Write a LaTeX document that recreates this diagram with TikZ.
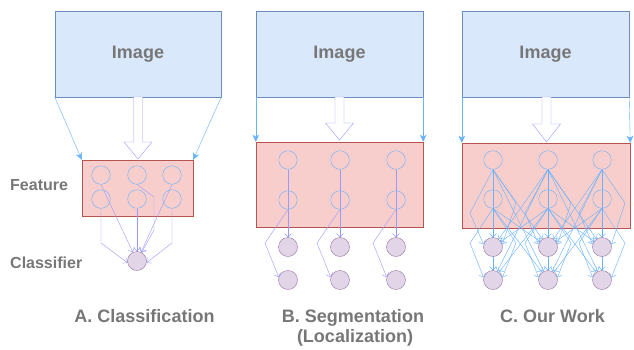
\documentclass[tikz,border=0pt]{standalone}
\usepackage{fontspec}
\setmainfont{Liberation Sans}
\usetikzlibrary{arrows.meta}
\definecolor{imgfill}{HTML}{DAE8FC}
\definecolor{imgline}{HTML}{6C8EBF}
\definecolor{featfill}{HTML}{F8CECC}
\definecolor{featline}{HTML}{B85450}
\definecolor{clsfill}{HTML}{E1D5E7}
\definecolor{clsline}{HTML}{9673A6}
\definecolor{bluel}{HTML}{66B2FF}
\definecolor{purpl}{HTML}{9999FF}
\definecolor{txtgray}{HTML}{777777}
\pgfdeclarelayer{bg}
\pgfdeclarelayer{edgelayer}
\pgfsetlayers{bg,edgelayer,main}
\newcommand\blockarrow[4]{%
  \draw[hollow] ({#1-4.5},#2) -- ({#1+4.5},#2) -- ({#1+4.5},#3) -- ({#1+14},#3) -- (#1,#4) -- ({#1-14},#3) -- ({#1-4.5},#3) -- cycle;}
\begin{document}
\begin{tikzpicture}[x=1pt,y=-1pt,line width=1pt,
  imgbox/.style={draw=imgline,fill=imgfill,minimum height=86pt,inner sep=0pt,
    font=\fontsize{18}{20}\selectfont\bfseries,text=txtgray},
  featbox/.style={draw=featline,fill=featfill,inner sep=0pt},
  fnode/.style={circle,draw=bluel,minimum size=18.6pt,inner sep=0pt},
  cnode/.style={circle,draw=clsline,fill=clsfill,minimum size=19pt,inner sep=0pt},
  inarrow/.style={draw=bluel,-{Stealth[length=7pt,width=6.5pt,inset=2pt]}},
  pline/.style={draw=purpl,-{Straight Barb[length=3.5pt,width=7pt]}},
  bline/.style={draw=bluel,-{Straight Barb[length=3.5pt,width=7pt]}},
  hollow/.style={draw=purpl,fill=white},
  labsmall/.style={font=\fontsize{16}{18}\selectfont\bfseries,text=txtgray,inner sep=0pt},
  labbig/.style={font=\fontsize{18}{20}\selectfont\bfseries,text=txtgray,inner sep=0pt}]
\useasboundingbox (0,0) rectangle (634,349);
\begin{pgfonlayer}{bg}
\fill[white] (0,0) rectangle (634,349);
\node[imgbox,minimum width=166pt] (imA) at (138,54) {Image};
\node[imgbox,minimum width=167pt] (imB) at (339.5,54) {Image};
\node[imgbox,minimum width=167pt] (imC) at (545.5,54) {Image};
\node[featbox,minimum width=111pt,minimum height=56pt] (fA) at (137.5,188) {};
\node[featbox,minimum width=167pt,minimum height=85pt] (fB) at (339.5,184.5) {};
\node[featbox,minimum width=168pt,minimum height=85pt] (fC) at (546,185.5) {};
\end{pgfonlayer}
% labels
\node[labsmall,anchor=base west] (lfeat) at (10,190) {Feature};
\node[labsmall,anchor=base west] (lcls) at (10,268) {Classifier};
\node[labbig,anchor=base] (tA) at (144.5,322) {A. Classification};
\node[labbig,anchor=base] (tB1) at (353,322) {B. Segmentation};
\node[labbig,anchor=base] (tB2) at (355,342.5) {(Localization)};
\node[labbig,anchor=base] (tC) at (552.5,322) {C. Our Work};
% panel A nodes
\node[fnode] (aT1) at (101,175) {};
\node[fnode] (aT2) at (137,175) {};
\node[fnode] (aT3) at (172,175) {};
\node[fnode] (aB1) at (101,199) {};
\node[fnode] (aB2) at (137,199) {};
\node[fnode] (aB3) at (172,199) {};
\node[cnode] (aC) at (137,261) {};
% panel B nodes
\foreach \i/\x in {1/288,2/340,3/396}{
  \node[fnode] (bT\i) at (\x,160) {};
  \node[fnode] (bB\i) at (\x,200) {};
  \node[cnode] (bU\i) at (\x,247) {};
  \node[cnode] (bV\i) at (\x,280) {};
}
% panel C nodes
\foreach \i/\x in {1/493,2/548,3/602}{
  \node[fnode] (cT\i) at (\x,160) {};
  \node[fnode] (cB\i) at (\x,199) {};
  \node[cnode] (cU\i) at (\x,247) {};
  \node[cnode] (cV\i) at (\x,280) {};
}
\begin{pgfonlayer}{edgelayer}
% image to feature
\draw[inarrow] (imA.south west) -- (fA.north west);
\draw[inarrow] (imA.south east) -- (fA.north east);
\draw[inarrow] (imB.south west) -- (fB.north west);
\draw[inarrow] (imB.south east) -- (fB.north east);
\draw[inarrow] (imC.south west) -- (fC.north west);
\draw[inarrow] (imC.south east) -- (fC.north east);
\blockarrow{138}{97}{142}{159}
\blockarrow{339.5}{97}{123}{140}
\blockarrow{546.5}{97}{124}{142}
% panel A edges
\draw[pline] (aT1.south) -- (aC);
\draw[pline] (aB1.south) -- (101,243) -- (aC.190);
\draw[pline] (aT2.south) -- (154,197) -- (154,230) -- (aC);
\draw[pline] (aB2.south) -- (aC.north);
\draw[pline] (aT3.south) -- (aC);
\draw[pline] (aB3.south) -- (172,243) -- (aC.-10);
% panel B edges
\foreach \i/\x in {1/288,2/340,3/396}{
  \draw[pline] (bT\i.south) -- (bU\i.north);
  \draw[pline] (bB\i.south) -- ({\x-23},243) -- (bV\i.163);
}
% panel C edges
\foreach \i/\x in {1/493,2/548,3/602}{
  \draw[bline] (cT\i.south) -- (cU\i.north);
  \draw[bline] (cB\i.south) -- (cV\i.north);
  \draw[bline] (cT\i.south) -- ({\x-23},213) -- (cU\i.165);
  \draw[bline] (cT\i.south) -- ({\x+23},203) -- (cU\i.15);
  \draw[bline] (cB\i.south) -- ({\x-23},243) -- (cV\i.165);
  \draw[bline] (cB\i.south) -- ({\x+23},243) -- (cV\i.15);
}
\foreach \s/\t in {1/2,2/1,2/3,3/2}{
  \draw[bline] (cT\s.south) -- (cU\t);
  \draw[bline] (cT\s.south) -- (cV\t);
  \draw[bline] (cB\s.south) -- (cU\t);
  \draw[bline] (cB\s.south) -- (cV\t);
}
\end{pgfonlayer}
\end{tikzpicture}
\end{document}
